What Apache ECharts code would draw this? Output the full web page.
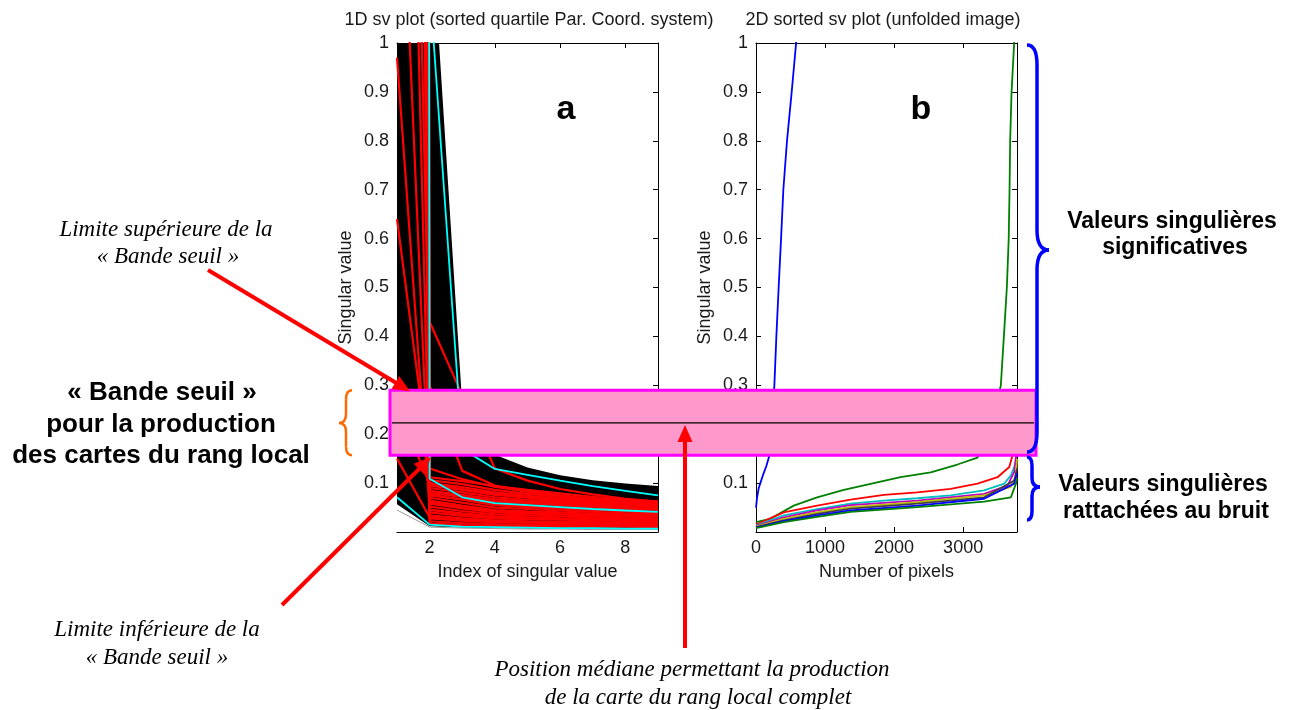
<!DOCTYPE html>
<html>
<head>
<meta charset="utf-8">
<script src="https://cdn.jsdelivr.net/npm/echarts@6/dist/echarts.min.js"></script>
<style>
html, body { margin: 0; padding: 0; background: #fff; }
#chart { width: 1293px; height: 710px; }
</style>
</head>
<body>
<div id="chart"></div>
<script>
// ---------- Panel a: singular values by index (sorted quartile parallel coordinates) ----------
const svIndex = [1, 2, 3, 4, 5, 6, 7, 8, 9];
const xTicksA = [2, 4, 6, 8];

// upper and lower limits of the dense black bundle of profiles
const bundleTop    = [4.0, 1.30, 0.26, 0.158, 0.132, 0.116, 0.106, 0.099, 0.094];
const bundleBottom = [0.057, 0.012, 0.009, 0.008, 0.007, 0.007, 0.006, 0.006, 0.006];

// highlighted (red) profiles
const redProfiles = [
  [0.97, 0.045, 0.037, 0.031, 0.029, 0.027, 0.026, 0.024, 0.023],
  [0.64, 0.130, 0.108, 0.092, 0.083, 0.075, 0.068, 0.063, 0.060],
  [3.2, 0.300, 0.125, 0.095, 0.082, 0.073, 0.066, 0.061, 0.057],
  [40, 0.430, 0.280, 0.130, 0.105, 0.088, 0.077, 0.068, 0.062],
  [2.8, 0.075, 0.067, 0.058, 0.054, 0.050, 0.046, 0.043, 0.040],
  [1.6, 0.060, 0.050, 0.042, 0.039, 0.036, 0.034, 0.032, 0.030],
  [0.15, 0.030, 0.025, 0.021, 0.020, 0.019, 0.018, 0.017, 0.016],
  [0.26, 0.098, 0.088, 0.078, 0.072, 0.066, 0.060, 0.056, 0.053],
  [7.0, 0.112, 0.104, 0.094, 0.086, 0.079, 0.072, 0.066, 0.062],
  [12, 0.106, 0.098, 0.086, 0.078, 0.072, 0.066, 0.061, 0.058],
  [18, 0.100, 0.092, 0.081, 0.074, 0.068, 0.063, 0.058, 0.055],
  [9.0, 0.095, 0.086, 0.076, 0.070, 0.064, 0.059, 0.055, 0.052],
  [25, 0.090, 0.081, 0.071, 0.066, 0.061, 0.056, 0.052, 0.049],
  [14, 0.084, 0.076, 0.067, 0.062, 0.058, 0.053, 0.050, 0.047],
  [30, 0.080, 0.072, 0.063, 0.059, 0.055, 0.051, 0.048, 0.045],
  [8.0, 0.076, 0.066, 0.055, 0.051, 0.048, 0.045, 0.042, 0.039],
  [16, 0.070, 0.060, 0.050, 0.047, 0.044, 0.041, 0.038, 0.036],
  [11, 0.064, 0.054, 0.045, 0.042, 0.040, 0.037, 0.035, 0.033],
  [22, 0.058, 0.048, 0.040, 0.038, 0.036, 0.034, 0.032, 0.030],
  [6.5, 0.052, 0.043, 0.036, 0.034, 0.032, 0.030, 0.028, 0.027],
  [19, 0.046, 0.038, 0.032, 0.030, 0.028, 0.027, 0.025, 0.024],
  [13, 0.040, 0.033, 0.028, 0.026, 0.025, 0.024, 0.022, 0.021],
  [28, 0.034, 0.028, 0.024, 0.022, 0.021, 0.020, 0.019, 0.018],
  [10, 0.028, 0.023, 0.020, 0.019, 0.018, 0.017, 0.016, 0.015],
  [17, 0.022, 0.018, 0.016, 0.015, 0.014, 0.014, 0.013, 0.013],
  [24, 0.017, 0.014, 0.012, 0.012, 0.011, 0.011, 0.011, 0.010]
];

// quartile (cyan) profiles
const cyanProfiles = [
  [60, 0.109, 0.071, 0.059, 0.055, 0.051, 0.047, 0.044, 0.041],
  [6.0, 1.120, 0.170, 0.129, 0.117, 0.105, 0.094, 0.084, 0.075],
  [0.071, 0.015, 0.011, 0.010, 0.009, 0.008, 0.008, 0.007, 0.007]
];

const greyProfile = [0.045, 0.010, 0.008, 0.007, 0.006, 0.006, 0.005, 0.005, 0.005];

// ---------- Panel b: sorted singular values over the unfolded image ----------
const xTicksB = [0, 1000, 2000, 3000];
const pixelCount = 3780;

const sv1Curve = [[0, 0.05], [15, 0.07], [40, 0.09], [63, 0.10], [110, 0.12], [150, 0.135], [193, 0.156],
  [230, 0.22], [266, 0.30], [295, 0.40], [328, 0.50], [363, 0.60], [396, 0.70], [449, 0.80], [517, 0.90],
  [581, 1.00], [640, 1.10]];
const sv2Curve = [[0, 0.020], [207, 0.027], [546, 0.054], [885, 0.071], [1272, 0.086], [1707, 0.100],
  [2094, 0.112], [2530, 0.122], [2917, 0.138], [3208, 0.152], [3380, 0.200], [3546, 0.300], [3590, 0.400],
  [3633, 0.500], [3660, 0.600], [3672, 0.700], [3681, 0.800], [3701, 0.900], [3739, 1.000], [3760, 1.200]];
const sv3Curve = [[0, 0.015], [401, 0.040], [885, 0.054], [1369, 0.066], [1853, 0.076], [2337, 0.081],
  [2820, 0.088], [3208, 0.099], [3498, 0.112], [3668, 0.133], [3716, 0.157], [3780, 0.280]];
const sv4Curve = [[0, 0.013], [401, 0.034], [885, 0.047], [1369, 0.058], [1853, 0.064], [2337, 0.069],
  [2820, 0.075], [3304, 0.085], [3595, 0.099], [3692, 0.116], [3740, 0.133], [3764, 0.146], [3780, 0.200]];
const sv5Curve = [[0, 0.012], [401, 0.030], [885, 0.044], [1369, 0.055], [2337, 0.064], [3304, 0.078],
  [3643, 0.095], [3740, 0.123], [3778, 0.170]];
const sv6Curve = [[0, 0.011], [401, 0.027], [885, 0.040], [1369, 0.051], [2337, 0.061], [3304, 0.075],
  [3692, 0.092], [3764, 0.116], [3780, 0.150]];
const sv7Curve = [[0, 0.010], [401, 0.024], [885, 0.037], [1369, 0.048], [2337, 0.058], [3304, 0.071],
  [3740, 0.105], [3780, 0.130]];
const sv8Curve = [[0, 0.009], [401, 0.022], [885, 0.034], [1369, 0.044], [2337, 0.054], [3304, 0.068],
  [3740, 0.099], [3780, 0.120]];
const sv9Curve = [[0, 0.008], [401, 0.020], [885, 0.031], [1369, 0.041], [2337, 0.051], [3304, 0.062],
  [3692, 0.071], [3764, 0.099], [3780, 0.110]];

const svCurves = [sv1Curve, sv2Curve, sv3Curve, sv4Curve, sv5Curve, sv6Curve, sv7Curve, sv8Curve, sv9Curve];
// classic MATLAB line colour order
const colorOrder = ['#0000ff', '#008000', '#ff0000', '#00bfbf', '#bf00bf', '#bfbf00', '#404040'];

// threshold band on the singular-value scale
const bandHigh = 0.29;
const bandLow = 0.157;
const bandMedian = 0.223;

// ---------- chart ----------
const FONT = '"Liberation Sans", Arial, Helvetica, sans-serif';
const TEXT = '#1a1a1a';

const chart = echarts.init(document.getElementById('chart'));

const grids = [
  { left: 397, top: 43, width: 261, height: 489 },
  { left: 756, top: 43, width: 261, height: 489 }
];

function frameX(gridIndex, min, max, ticks, position, name) {
  const main = position === 'bottom';
  return {
    gridIndex, type: 'value', min, max, position,
    axisLine: { show: true, onZero: false, lineStyle: { color: '#000', width: 1 } },
    axisTick: { show: true, inside: true, length: 5, customValues: ticks, lineStyle: { color: '#000', width: 1 } },
    axisLabel: { show: main, customValues: ticks, color: TEXT, fontSize: 18, fontFamily: FONT, margin: 7,
                 formatter: v => String(v) },
    splitLine: { show: false },
    name: main ? name : '',
    nameLocation: 'middle', nameGap: 31,
    nameTextStyle: { color: TEXT, fontSize: 18, fontFamily: FONT }
  };
}
function frameY(gridIndex, position, name) {
  const main = position === 'left';
  return {
    gridIndex, type: 'value', min: 0, max: 1, interval: 0.1, position,
    axisLine: { show: true, onZero: false, lineStyle: { color: '#000', width: 1 } },
    axisTick: { show: true, inside: true, length: 5, lineStyle: { color: '#000', width: 1 } },
    axisLabel: { show: main, showMinLabel: false, color: TEXT, fontSize: 18, fontFamily: FONT, margin: 8,
                 formatter: v => String(Math.round(v * 10) / 10) },
    splitLine: { show: false },
    name: main ? name : '',
    nameLocation: 'middle', nameGap: 42, nameRotate: 90,
    nameTextStyle: { color: TEXT, fontSize: 18, fontFamily: FONT }
  };
}

function line(xi, data, color, width, z) {
  return {
    type: 'line', xAxisIndex: xi, yAxisIndex: xi, data,
    symbol: 'none', showSymbol: false, clip: true, silent: true, animation: false,
    lineStyle: { color, width }, z
  };
}
const byIndex = (values) => svIndex.map((x, i) => [x, values[i]]);

const series = [];
// panel a: black bundle, blanked underneath its lower limit
series.push(Object.assign(line(0, byIndex(bundleTop), '#000', 0, 2),
  { areaStyle: { color: '#000', opacity: 1 } }));
series.push(Object.assign(line(0, byIndex(bundleBottom), '#fff', 0, 3),
  { areaStyle: { color: '#fff', opacity: 1 } }));
series.push(line(0, byIndex(greyProfile), '#9a9a9a', 1, 4));
redProfiles.forEach(p => series.push(line(0, byIndex(p), '#ff0000', 2.2, 5)));
cyanProfiles.forEach(p => series.push(line(0, byIndex(p), '#00ffff', 1.8, 6)));
// panel b: one curve per singular value
svCurves.forEach((c, i) => series.push(line(2, c, colorOrder[i % colorOrder.length], 1.8, 5 + i * 0.01)));

chart.setOption({
  animation: false,
  backgroundColor: '#fff',
  grid: grids.map(g => Object.assign({ containLabel: false, outerBoundsMode: 'none' }, g)),
  xAxis: [
    frameX(0, 1, 9, xTicksA, 'bottom', 'Index of singular value'),
    frameX(0, 1, 9, xTicksA, 'top', ''),
    frameX(1, 0, pixelCount, xTicksB, 'bottom', 'Number of pixels'),
    frameX(1, 0, pixelCount, xTicksB, 'top', '')
  ],
  yAxis: [
    frameY(0, 'left', 'Singular value'),
    frameY(0, 'right', ''),
    frameY(1, 'left', 'Singular value'),
    frameY(1, 'right', '')
  ],
  series
});

// ---------- annotations ----------
const yHigh = chart.convertToPixel({ gridIndex: 0 }, [1, bandHigh])[1];
const yLow = chart.convertToPixel({ gridIndex: 0 }, [1, bandLow])[1];
const yMid = chart.convertToPixel({ gridIndex: 0 }, [1, bandMedian])[1];
const bandLeft = 390, bandRight = 1036;

function label(text, x, y, font, fill) {
  return {
    type: 'text', x, y, z: 130, silent: true,
    style: { text, font, fill: fill || '#000', align: 'center', verticalAlign: 'middle',
             textAlign: 'center', textVerticalAlign: 'middle' }
  };
}
function arrow(x1, y1, x2, y2) {
  const dx = x2 - x1, dy = y2 - y1, len = Math.hypot(dx, dy);
  const ux = dx / len, uy = dy / len, headLen = 17, headHalf = 7.5;
  const bx = x2 - ux * headLen, by = y2 - uy * headLen;
  return [
    { type: 'line', z: 125, silent: true, shape: { x1, y1, x2: bx + ux * 2, y2: by + uy * 2 },
      style: { stroke: '#ff0000', lineWidth: 4 } },
    { type: 'polygon', z: 125, silent: true,
      shape: { points: [[x2, y2], [bx - uy * headHalf, by + ux * headHalf], [bx + uy * headHalf, by - ux * headHalf]] },
      style: { fill: '#ff0000' } }
  ];
}
// a curly brace made of quadratic curves and straight runs
// (x0: end tips, xs: stem, xp: cusp, y0..y1 span, ym cusp height, r: curl size)
function brace(x0, xs, xp, y0, ym, y1, r, color, width) {
  const st = { stroke: color, lineWidth: width, fill: null };
  const seg = (a, b, c, d) => ({ type: 'line', z: 126, silent: true,
    shape: { x1: a, y1: b, x2: c, y2: d }, style: st });
  const q = (a, b, cx, cy, c, d) => ({ type: 'bezierCurve', z: 126, silent: true,
    shape: { x1: a, y1: b, cpx1: cx, cpy1: cy, x2: c, y2: d }, style: st });
  return [
    q(x0, y0, xs, y0, xs, y0 + r),
    seg(xs, y0 + r, xs, ym - r),
    q(xs, ym - r, xs, ym, xp, ym),
    q(xp, ym, xs, ym, xs, ym + r),
    seg(xs, ym + r, xs, y1 - r),
    q(xs, y1 - r, xs, y1, x0, y1)
  ];
}

const serifIt = 'italic 23px "Liberation Serif", "Times New Roman", serif';
const boldL = 'bold 26px ' + FONT;
const boldR = 'bold 23px ' + FONT;
const matlab = '18px ' + FONT;

const elements = [
  // panel titles and letters
  label('1D sv plot (sorted quartile Par. Coord. system)', 529, 20, matlab, TEXT),
  label('2D sorted sv plot (unfolded image)', 883, 20, matlab, TEXT),
  label('a', 566, 110, 'bold 34px ' + FONT),
  label('b', 921, 110, 'bold 34px ' + FONT),
  // threshold band
  { type: 'rect', z: 120, silent: true,
    shape: { x: bandLeft, y: yHigh, width: bandRight - bandLeft, height: yLow - yHigh },
    style: { fill: '#ff99cc', stroke: '#ff00ff', lineWidth: 3 } },
  { type: 'line', z: 121, silent: true,
    shape: { x1: bandLeft + 2, y1: yMid, x2: bandRight - 2, y2: yMid },
    style: { stroke: '#000', lineWidth: 1.2 } },
  ...arrow(208, 270, 410, yHigh + 1),
  ...arrow(282, 605, 431, yLow + 2),
  ...arrow(685, 648, 685, yMid + 2),
  // braces
  ...brace(352, 346, 339, yHigh, yMid, yLow, 9, '#ff6a00', 2.5),
  ...brace(1027, 1037, 1049, 45, 250, 452, 20, '#0000ff', 3.5),
  ...brace(1027, 1032, 1040, 457, 487, 520, 9, '#0000ff', 3.5),
  // notes
  label('Limite supérieure de la', 166, 230, serifIt),
  label('« Bande seuil »', 168, 257, serifIt),
  label('Limite inférieure de la', 157, 630, serifIt),
  label('« Bande seuil »', 157, 658, serifIt),
  label('Position médiane permettant la production', 692, 670, serifIt),
  label('de la carte du rang local complet', 698, 698, serifIt),
  label('« Bande seuil »', 162, 393, boldL),
  label('pour la production', 161, 425, boldL),
  label('des cartes du rang local', 161, 456, boldL),
  label('Valeurs singulières', 1172, 222, boldR),
  label('significatives', 1175, 248, boldR),
  label('Valeurs singulières', 1163, 485, boldR),
  label('rattachées au bruit', 1166, 512, boldR)
];

chart.setOption({ graphic: { elements } });
</script>
</body>
</html>
